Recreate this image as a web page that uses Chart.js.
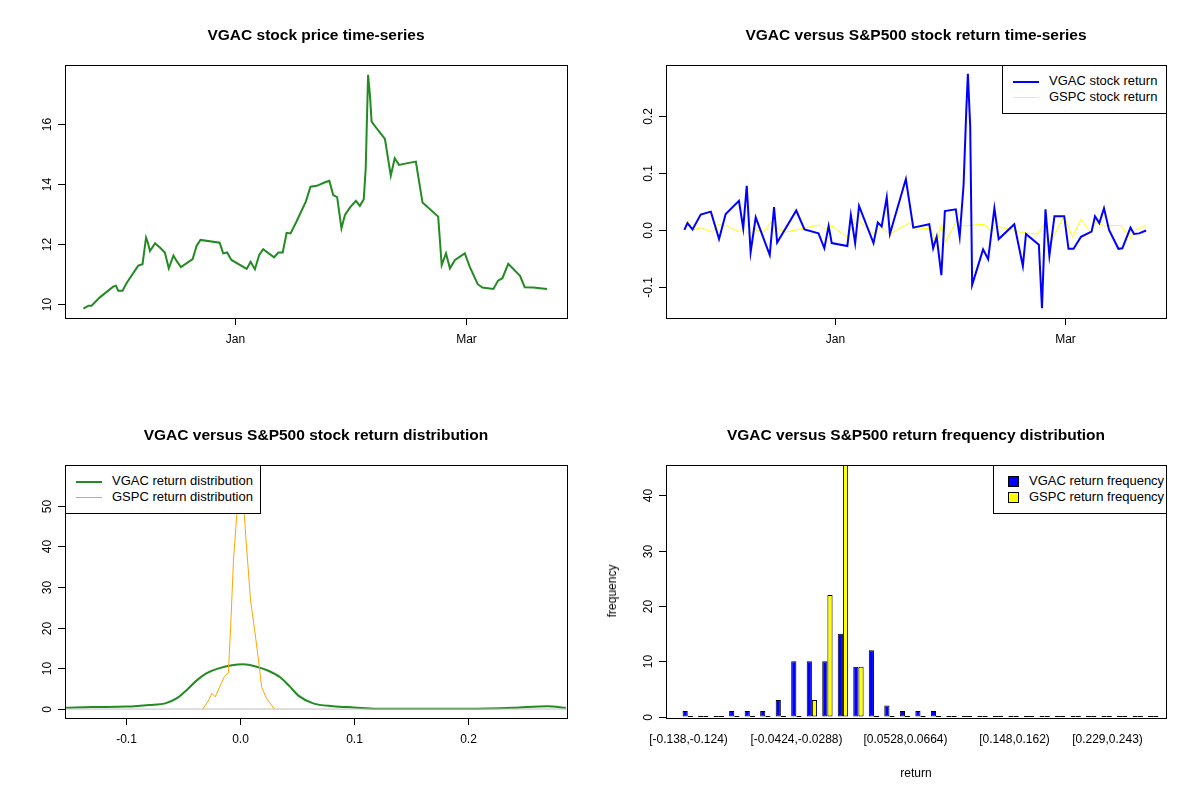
<!DOCTYPE html>
<html>
<head>
<meta charset="utf-8">
<script src="https://cdn.jsdelivr.net/npm/chart.js@4"></script>
<style>
  body { margin: 0; background: #fff; font-family: "Liberation Sans", Arial, sans-serif; }
  #wrap { position: relative; width: 1200px; height: 800px; }
  canvas { position: absolute; }
  .title { position: absolute; font-weight: bold; font-size: 15.5px; transform: translateX(-50%); white-space: nowrap; }
  .legend { position: absolute; border: 1px solid #000; background: #fff; font-size: 13px; box-sizing: border-box; padding: 7px 8px 0 10px; }
  .legend div { height: 16px; line-height: 16px; white-space: nowrap; }
  .legend span { display: inline-block; vertical-align: middle; margin-right: 10px; }
  .lab { position: absolute; font-size: 12px; white-space: nowrap; }
</style>
</head>
<body>
<div id="wrap">
  <canvas id="c1" width="600" height="400" style="left:0;top:0"></canvas>
  <canvas id="c2" width="600" height="400" style="left:600px;top:0"></canvas>
  <canvas id="c3" width="600" height="400" style="left:0;top:400px"></canvas>
  <canvas id="c4" width="600" height="400" style="left:600px;top:400px"></canvas>

  <div class="title" style="left:316px;top:26px">VGAC stock price time-series</div>
  <div class="title" style="left:916px;top:26px">VGAC versus S&amp;P500 stock return time-series</div>
  <div class="title" style="left:316px;top:426px">VGAC versus S&amp;P500 stock return distribution</div>
  <div class="title" style="left:916px;top:426px">VGAC versus S&amp;P500 return frequency distribution</div>

  <div class="legend" style="left:1002px;top:65px;width:165px;height:49px">
    <div><span style="width:26px;height:2px;background:#0000ff"></span>VGAC stock return</div>
    <div><span style="width:26px;height:1px;background:#ffff00"></span>GSPC stock return</div>
  </div>
  <div class="legend" style="left:65px;top:465px;width:196px;height:49px">
    <div><span style="width:26px;height:2px;background:#228b22"></span>VGAC return distribution</div>
    <div><span style="width:26px;height:1px;background:#ffa500"></span>GSPC return distribution</div>
  </div>
  <div class="legend" style="left:993px;top:465px;width:174px;height:49px">
    <div><span style="width:9px;height:9px;background:#0000ff;border:1px solid #000;margin-left:4px"></span>VGAC return frequency</div>
    <div><span style="width:9px;height:9px;background:#ffff00;border:1px solid #000;margin-left:4px"></span>GSPC return frequency</div>
  </div>

  <div class="lab" style="left:916px;top:766px;transform:translateX(-50%)">return</div>
  <div class="lab" style="left:612px;top:591px;transform:translate(-50%,-50%) rotate(-90deg)">frequency</div>
</div>

<script>
// days relative to Jan 1
const priceDays = [-38.7, -37.4, -36.6, -34.5, -31.1, -30.4, -29.8, -28.7, -27.7, -24.7, -23.6, -22.7, -22.3, -21.7, -20.4, -19.1, -17.9, -16.9, -15.7, -14.9, -13.8, -10.8, -9.8, -8.8, -3.9, -3.0, -2.0, -0.9, 3.0, 4.0, 5.1, 6.2, 7.2, 10.0, 11.1, 12.2, 13.2, 14.2, 15.7, 18.1, 19.3, 20.9, 23.0, 24.1, 25.1, 26.1, 27.2, 28.1, 29.4, 30.9, 31.9, 32.9, 33.4, 33.6, 34.0, 34.5, 34.9, 36.6, 38.3, 39.8, 40.8, 41.9, 43.8, 46.2, 47.9, 51.9, 52.8, 53.9, 54.9, 56.2, 58.7, 60.0, 62.0, 63.2, 66.0, 67.2, 68.3, 69.8, 72.8, 74.0, 76.2, 79.7];
const vgacPrice = [9.83, 9.93, 9.93, 10.21, 10.57, 10.60, 10.43, 10.43, 10.68, 11.27, 11.32, 12.21, 12.07, 11.76, 12.02, 11.87, 11.71, 11.18, 11.61, 11.43, 11.22, 11.49, 11.93, 12.13, 12.04, 11.68, 11.71, 11.46, 11.16, 11.40, 11.15, 11.63, 11.82, 11.55, 11.71, 11.71, 12.37, 12.35, 12.74, 13.41, 13.91, 13.94, 14.06, 14.11, 13.63, 13.56, 12.52, 12.97, 13.22, 13.44, 13.27, 13.49, 14.53, 15.59, 17.65, 16.92, 16.09, 15.79, 15.51, 14.28, 14.86, 14.64, 14.69, 14.75, 13.38, 12.91, 11.29, 11.68, 11.18, 11.46, 11.68, 11.22, 10.65, 10.54, 10.49, 10.77, 10.85, 11.33, 10.93, 10.55, 10.54, 10.49];

const vgacRetDays = [-38.7, -37.9, -36.6, -34.5, -31.9, -29.8, -28.1, -24.7, -23.6, -22.7, -21.7, -20.4, -16.8, -15.7, -14.9, -10.0, -7.9, -4.3, -2.8, -1.7, -0.9, 3.1, 4.0, 5.1, 6.1, 9.8, 10.9, 11.9, 13.2, 14.0, 18.1, 20.0, 24.1, 25.1, 26.0, 27.2, 28.1, 30.9, 31.9, 32.9, 33.6, 34.0, 34.6, 35.1, 37.9, 39.2, 40.8, 41.9, 45.9, 48.1, 48.9, 52.2, 53.0, 53.9, 54.9, 56.2, 58.7, 59.8, 61.1, 63.0, 65.7, 66.6, 67.7, 68.9, 70.2, 72.6, 73.6, 75.7, 76.6, 77.9, 79.7];
const vgacReturn = [0, 0.012, 0.001, 0.027, 0.032, -0.016, 0.028, 0.051, 0.003, 0.077, -0.039, 0.022, -0.044, 0.040, -0.022, 0.034, 0.001, -0.006, -0.032, 0.007, -0.023, -0.028, 0.026, -0.023, 0.042, -0.023, 0.013, 0.006, 0.057, -0.007, 0.089, 0.004, 0.010, -0.032, -0.012, -0.079, 0.033, 0.036, -0.012, 0.079, 0.210, 0.273, 0.181, -0.096, -0.034, -0.051, 0.038, -0.016, 0.010, -0.063, -0.007, -0.026, -0.137, 0.036, -0.045, 0.024, 0.024, -0.033, -0.033, -0.012, -0.003, 0.024, 0.012, 0.038, 0, -0.033, -0.032, 0.004, -0.007, -0.006, -0.001];

const gspcRetDays = [-38.7, -37.7, -36.6, -34.5, -31.5, -30.2, -28.1, -24.7, -23.6, -22.1, -20.4, -18.3, -16.6, -14.9, -12.8, -8.1, -3.9, -2.8, -0.9, 3.0, 4.5, 6.2, 9.8, 11.5, 14.0, 19.1, 20.4, 24.3, 26.0, 27.2, 28.3, 31.1, 32.8, 34.5, 38.3, 39.6, 41.7, 45.5, 48.1, 51.9, 53.9, 54.9, 58.7, 60.8, 63.0, 65.5, 66.8, 68.9, 73.2, 75.7, 77.0, 79.7];
const gspcReturn = [0, 0.016, 0, 0.004, -0.004, 0.009, 0.008, -0.003, 0.004, -0.007, 0, -0.004, 0.013, 0.003, -0.004, 0.003, 0.009, 0.001, 0.007, -0.012, 0.009, 0.015, -0.007, 0.006, -0.007, 0.013, 0.001, 0.003, -0.023, 0.009, -0.020, 0.016, 0.007, 0.008, 0.010, -0.001, 0.006, 0, -0.005, -0.007, 0.013, -0.026, 0.025, -0.013, 0.019, -0.005, 0.013, 0.007, 0.008, -0.015, 0, 0.008];

const vgacDensX = [-0.153, -0.13, -0.1, -0.08, -0.066, -0.056, -0.047, -0.038, -0.0295, -0.019, 0.0026, 0.0143, 0.0246, 0.035, 0.0436, 0.051, 0.064, 0.0816, 0.1, 0.12, 0.2, 0.24, 0.27, 0.286];
const vgacDensY = [0.3, 0.5, 0.6, 1.0, 1.4, 2.6, 4.7, 7.1, 8.8, 10.0, 11.0, 10.4, 9.4, 7.8, 5.5, 3.3, 1.4, 0.7, 0.4, 0.1, 0.05, 0.3, 0.7, 0.3];
const gspcDensX = [-0.033, -0.028, -0.025, -0.022, -0.018, -0.014, -0.0105, -0.0085, -0.006, -0.003, 0.0, 0.003, 0.005, 0.009, 0.013, 0.0167, 0.0187, 0.023, 0.030];
const gspcDensY = [0, 2.0, 3.9, 3.0, 5.5, 8.0, 8.8, 20, 36.6, 48, 52, 50, 41.6, 26.8, 18.6, 10.4, 5.5, 2.6, 0];

const binLabels = [];
for (let i = 0; i < 31; i++) {
  const lo = -0.138 + i * 0.0136;
  binLabels.push('[' + lo.toPrecision(3) + ',' + (lo + 0.0136).toPrecision(3) + ')');
}
binLabels[7] = '[-0.0424,-0.0288)';
binLabels[14] = '[0.0528,0.0664)';
binLabels[21] = '[0.148,0.162)';
binLabels[27] = '[0.229,0.243)';
const shownBins = [0, 7, 14, 21, 27];
const vgacFreq = [1, 0, 0, 1, 1, 1, 3, 10, 10, 10, 15, 9, 12, 2, 1, 1, 1, 0, 0, 0, 0, 0, 0, 0, 0, 0, 0, 0, 0, 0, 0];
const gspcFreq = [0, 0, 0, 0, 0, 0, 0, 0, 3, 22, 47, 9, 0, 0, 0, 0, 0, 0, 0, 0, 0, 0, 0, 0, 0, 0, 0, 0, 0, 0, 0];

const FONT = '12px "Liberation Sans", Arial, sans-serif';
const zip = (xs, ys) => xs.map((x, i) => ({ x, y: ys[i] }));

// R-style frame: box, outward ticks, vertical y labels
const rAxes = {
  id: 'rAxes',
  afterDraw(chart, args, o) {
    const ctx = chart.ctx;
    const a = chart.chartArea;
    const box = o.box || { left: a.left, right: a.right, top: a.top, bottom: a.bottom };
    ctx.save();
    ctx.strokeStyle = '#000';
    ctx.lineWidth = 1;
    ctx.strokeRect(box.left + 0.5, box.top + 0.5, box.right - box.left, box.bottom - box.top);
    ctx.fillStyle = '#000';
    ctx.font = FONT;
    const y = chart.scales.y;
    const fmt = o.yFormat || (v => String(v));
    o.yTicks.forEach(v => {
      const py = Math.round(y.getPixelForValue(v)) + 0.5;
      ctx.beginPath(); ctx.moveTo(box.left, py); ctx.lineTo(box.left - 7, py); ctx.stroke();
      ctx.save();
      ctx.translate(box.left - 17, py);
      ctx.rotate(-Math.PI / 2);
      ctx.textAlign = 'center'; ctx.textBaseline = 'middle';
      ctx.fillText(fmt(v), 0, 0);
      ctx.restore();
    });
    const x = chart.scales.x;
    ctx.textAlign = 'center'; ctx.textBaseline = 'middle';
    o.xTicks.forEach(t => {
      const px = Math.round(x.getPixelForValue(t.v)) + 0.5;
      if (o.xMarks !== false) {
        ctx.beginPath(); ctx.moveTo(px, box.bottom); ctx.lineTo(px, box.bottom + 7); ctx.stroke();
      }
      ctx.fillText(t.label, px, box.bottom + 22);
    });
    ctx.restore();
  }
};

function baseOptions(pad, xMin, xMax, yMin, yMax, axes) {
  return {
    responsive: false,
    animation: false,
    layout: { padding: pad },
    plugins: { legend: { display: false }, tooltip: { enabled: false }, rAxes: axes },
    scales: {
      x: { type: 'linear', display: false, min: xMin, max: xMax },
      y: { type: 'linear', display: false, min: yMin, max: yMax }
    },
    elements: { point: { radius: 0 }, line: { tension: 0 } }
  };
}

const dateTicks = [{ v: 0, label: 'Jan' }, { v: 59, label: 'Mar' }];

new Chart(document.getElementById('c1'), {
  type: 'line',
  data: { datasets: [{ data: zip(priceDays, vgacPrice), borderColor: '#228b22', borderWidth: 2 }] },
  options: baseOptions({ left: 65, top: 65, right: 33, bottom: 82 }, -43.4, 84.8, 9.52, 17.98,
    { yTicks: [10, 12, 14, 16], xTicks: dateTicks }),
  plugins: [rAxes]
});

new Chart(document.getElementById('c2'), {
  type: 'line',
  data: { datasets: [
    { data: zip(vgacRetDays, vgacReturn), borderColor: '#0000ff', borderWidth: 2 },
    { data: zip(gspcRetDays, gspcReturn), borderColor: '#ffff00', borderWidth: 1 }
  ] },
  options: baseOptions({ left: 66, top: 65, right: 34, bottom: 82 }, -43.4, 84.8, -0.154, 0.2885,
    { yTicks: [-0.1, 0, 0.1, 0.2], yFormat: v => v.toFixed(1), xTicks: dateTicks }),
  plugins: [rAxes]
});

const densOpts = baseOptions({ left: 65, top: 65, right: 33, bottom: 82 }, -0.154, 0.287, -2.2, 59.95,
  { yTicks: [0, 10, 20, 30, 40, 50], xTicks: [{ v: -0.1, label: '-0.1' }, { v: 0, label: '0.0' }, { v: 0.1, label: '0.1' }, { v: 0.2, label: '0.2' }] });
new Chart(document.getElementById('c3'), {
  type: 'line',
  data: { datasets: [
    { data: [{ x: -0.154, y: 0 }, { x: 0.287, y: 0 }], borderColor: '#bebebe', borderWidth: 1 },
    { data: zip(gspcDensX, gspcDensY), borderColor: '#ffa500', borderWidth: 1 },
    { data: zip(vgacDensX, vgacDensY), borderColor: '#228b22', borderWidth: 2, tension: 0.4, cubicInterpolationMode: 'monotone' }
  ] },
  options: densOpts,
  plugins: [rAxes]
});

const barOpts = baseOptions({ left: 80, top: 65, right: 39, bottom: 82 }, undefined, undefined, -0.25, 45.5,
  { yTicks: [0, 10, 20, 30, 40], xMarks: false, box: { left: 66, right: 566, top: 65, bottom: 318 },
    xTicks: shownBins.map(i => ({ v: i, label: binLabels[i] })) });
barOpts.scales.x = { type: 'category', display: false, offset: true, grid: { offset: true } };
new Chart(document.getElementById('c4'), {
  type: 'bar',
  data: {
    labels: binLabels,
    datasets: [
      { data: vgacFreq, backgroundColor: '#0000ff', borderColor: '#000', borderWidth: 1, minBarLength: 1, borderSkipped: false },
      { data: gspcFreq, backgroundColor: '#ffff00', borderColor: '#000', borderWidth: 1, minBarLength: 1, borderSkipped: false }
    ]
  },
  options: Object.assign(barOpts, { datasets: { bar: { categoryPercentage: 0.667, barPercentage: 1 } } }),
  plugins: [rAxes]
});
</script>
</body>
</html>
